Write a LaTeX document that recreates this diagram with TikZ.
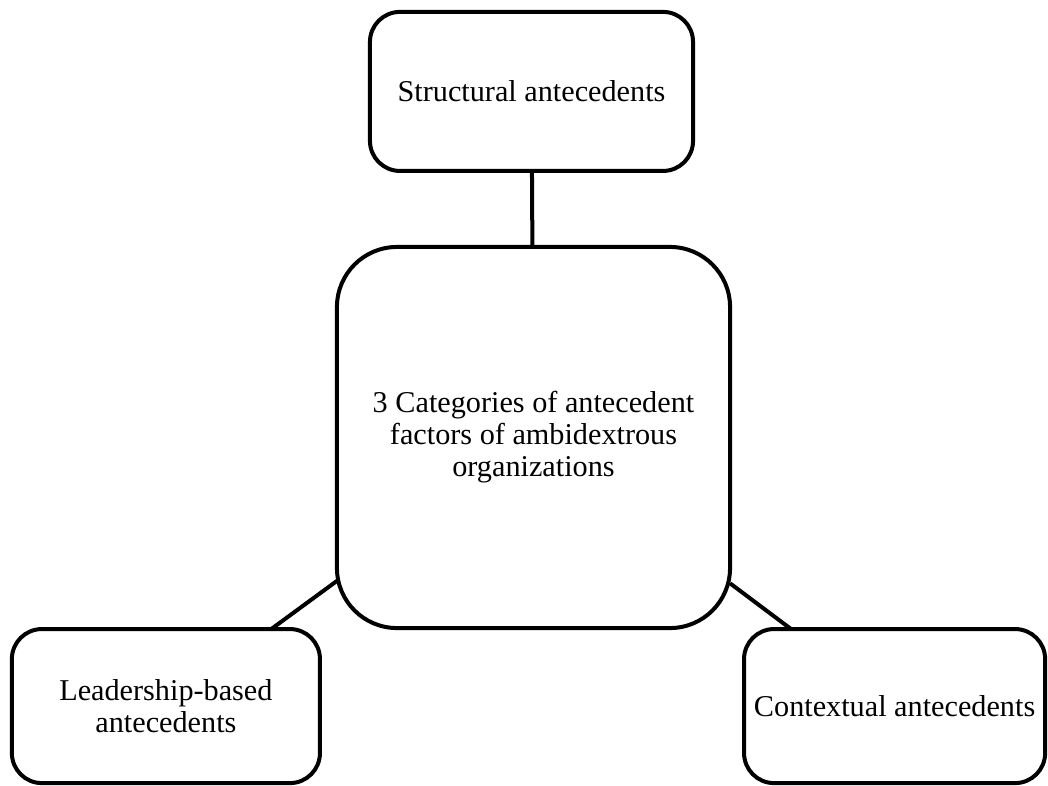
\documentclass[tikz,border=0pt]{standalone}
\usepackage{fontspec}
\setmainfont{Liberation Serif}
\usetikzlibrary{positioning,shapes}

\begin{document}
\begin{tikzpicture}[x=0.025cm,y=0.025cm,line width=0.1cm,
                    box/.style={draw,rounded corners=0.75cm,align=center,outer sep=0pt,
                                font=\fontsize{21.5}{22.8}\selectfont}]

        \useasboundingbox (0,0) rectangle (1048,-785);

        \node[box,minimum width=9.825cm,minimum height=9.525cm,rounded corners=1.5cm] (mid) at (533.5,-437.5)
              {3 Categories of antecedent\\factors of ambidextrous\\organizations};
        \node[box,minimum width=8.075cm,minimum height=3.975cm] (struct) [above=1.9cm of mid,xshift=-0.05cm]
              {Structural antecedents};
        \node[box,minimum width=7.7cm,minimum height=3.85cm] (lead) [below left=0.025cm and 0.425cm of mid]
              {Leadership-based\\antecedents};
        \node[box,minimum width=7.525cm,minimum height=3.85cm] (ctx) [below right=0.025cm and 0.35cm of mid]
              {Contextual antecedents};

        \path (mid) edge (struct)
                    edge (lead)
                    edge (ctx);
\end{tikzpicture}
\end{document}
